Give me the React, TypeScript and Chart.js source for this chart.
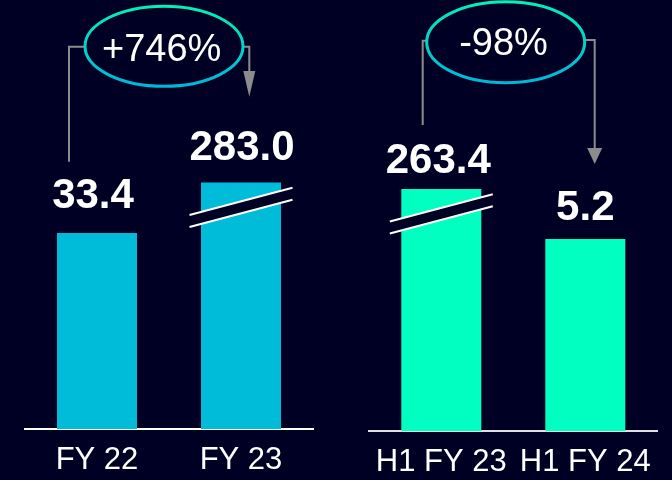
import React, { useEffect, useRef } from "react";
import { Chart, registerables } from "chart.js";

Chart.register(...registerables);

// ---------- data ----------
const leftCategories = ["FY 22", "FY 23"];
const leftValues = [33.4, 283.0];
// Bars in the source use a broken, non-proportional axis: these are the drawn
// bar heights, on a 0–100 plot scale.
const leftDrawnHeights = [65.3, 82.2];
const leftBroken = [false, true];
const leftChange = "+746%";

const rightCategories = ["H1 FY 23", "H1 FY 24"];
const rightValues = [263.4, 5.2];
const rightDrawnHeights = [80.7, 64.0];
const rightBroken = [true, false];
const rightChange = "-98%";

// ---------- style ----------
const BG = "#000024";
const CYAN = "#00BCD9";
const MINT = "#00FFC0";
const CONNECTOR = "#8C8C8C";
const FONT = "'Liberation Sans', Arial, Helvetica, sans-serif";

type PanelCfg = {
  categories: string[];
  values: number[];
  heights: number[];
  broken: boolean[];
  change: string;
  color: string;
  baseline: string;
  padding: { left: number; right: number; top: number };
  axisHeight: number;
  labelGap: number[];
  labelDx: number[];
  ellipse: { cx: number; cy: number; rx: number; ry: number };
  textX: number;
  textBaseline: number;
  leftConnDx: number;
  leftConnBottom: number;
  leftConnY: number;
  arrowDx: number;
  arrowY: number;
  headTop: number;
  tip: number;
  halfW: number;
};

const leftPanel: PanelCfg = {
  categories: leftCategories,
  values: leftValues,
  heights: leftDrawnHeights,
  broken: leftBroken,
  change: leftChange,
  color: CYAN,
  baseline: "#ffffff",
  padding: { left: 25, right: 23, top: 129 },
  axisHeight: 51,
  labelGap: [40, 37.7],
  labelDx: [-4, 1],
  ellipse: { cx: 164, cy: 46.3, rx: 79, ry: 40 },
  textX: 161.7,
  textBaseline: 60.6,
  leftConnDx: -28,
  leftConnBottom: 161.7,
  leftConnY: 46.7,
  arrowDx: 8.3,
  arrowY: 46.7,
  headTop: 71,
  tip: 96.7,
  halfW: 6,
};

const rightPanel: PanelCfg = {
  categories: rightCategories,
  values: rightValues,
  heights: rightDrawnHeights,
  broken: rightBroken,
  change: rightChange,
  color: MINT,
  baseline: "#e0e0e0",
  padding: { left: 33.3, right: 14.7, top: 131 },
  axisHeight: 49,
  labelGap: [30.7, 34],
  labelDx: [-3, 0],
  ellipse: { cx: 169.7, cy: 42.2, rx: 79, ry: 40.5 },
  textX: 167.5,
  textBaseline: 55,
  leftConnDx: -18.6,
  leftConnBottom: 125,
  leftConnY: 40.7,
  arrowDx: 9.4,
  arrowY: 40,
  headTop: 148,
  tip: 164,
  halfW: 7.5,
};

function makePlugin(p: PanelCfg) {
  return {
    id: "panelAnnotations",
    afterDatasetsDraw(chart: any) {
      const ctx: CanvasRenderingContext2D = chart.ctx;
      const bars = chart.getDatasetMeta(0).data as any[];
      ctx.save();

      // break marks + value labels
      bars.forEach((bar: any, i: number) => {
        const cx = bar.x;
        const top = bar.y;
        if (p.broken[i]) {
          const half = 51.5;
          const slope = 0.265;
          const yAt = (x: number, off: number) => top + off - slope * (x - cx);
          const xl = cx - half;
          const xr = cx + half;
          ctx.beginPath();
          ctx.moveTo(xl, yAt(xl, 19));
          ctx.lineTo(xr, yAt(xr, 19));
          ctx.lineTo(xr, yAt(xr, 31));
          ctx.lineTo(xl, yAt(xl, 31));
          ctx.closePath();
          ctx.fillStyle = BG;
          ctx.fill();
          ctx.strokeStyle = "#ffffff";
          ctx.lineWidth = 2;
          ctx.beginPath();
          ctx.moveTo(xl, yAt(xl, 19));
          ctx.lineTo(xr, yAt(xr, 19));
          ctx.moveTo(xl, yAt(xl, 31));
          ctx.lineTo(xr, yAt(xr, 31));
          ctx.stroke();
        }
        ctx.fillStyle = "#ffffff";
        ctx.font = `bold 42px ${FONT}`;
        ctx.textAlign = "center";
        ctx.textBaseline = "alphabetic";
        ctx.fillText(
          p.values[i].toFixed(1),
          cx + p.labelDx[i],
          top - p.labelGap[i] + 15
        );
      });

      // connectors
      const e = p.ellipse;
      ctx.strokeStyle = CONNECTOR;
      ctx.fillStyle = CONNECTOR;
      ctx.lineWidth = 2;
      const lx = bars[0].x + p.leftConnDx;
      ctx.beginPath();
      ctx.moveTo(lx, p.leftConnBottom);
      ctx.lineTo(lx, p.leftConnY);
      ctx.lineTo(e.cx - e.rx, p.leftConnY);
      ctx.stroke();

      const ax = bars[1].x + p.arrowDx;
      ctx.beginPath();
      ctx.moveTo(e.cx + e.rx, p.arrowY);
      ctx.lineTo(ax, p.arrowY);
      ctx.lineTo(ax, p.headTop);
      ctx.stroke();
      ctx.beginPath();
      ctx.moveTo(ax - p.halfW, p.headTop);
      ctx.lineTo(ax + p.halfW, p.headTop);
      ctx.lineTo(ax, p.tip);
      ctx.closePath();
      ctx.fill();

      // ellipse
      const grad = ctx.createLinearGradient(0, e.cy - e.ry, 0, e.cy + e.ry);
      grad.addColorStop(0, "#00F2B8");
      grad.addColorStop(0.5, "#00D4C8");
      grad.addColorStop(1, "#00B6DA");
      ctx.beginPath();
      ctx.ellipse(e.cx, e.cy, e.rx, e.ry, 0, 0, Math.PI * 2);
      ctx.fillStyle = BG;
      ctx.fill();
      ctx.strokeStyle = grad;
      ctx.lineWidth = 3;
      ctx.stroke();

      ctx.fillStyle = "#ffffff";
      ctx.font = `38px ${FONT}`;
      ctx.textAlign = "center";
      ctx.textBaseline = "alphabetic";
      ctx.fillText(p.change, p.textX, p.textBaseline);

      ctx.restore();
    },
  };
}

function Panel({ cfg, left }: { cfg: PanelCfg; left: number }) {
  const ref = useRef<HTMLCanvasElement | null>(null);
  useEffect(() => {
    if (!ref.current) return;
    const chart = new Chart(ref.current, {
      type: "bar",
      data: {
        labels: cfg.categories,
        datasets: [
          {
            data: cfg.heights,
            backgroundColor: cfg.color,
            borderWidth: 0,
            barPercentage: 80 / 144,
            categoryPercentage: 1,
          },
        ],
      },
      options: {
        responsive: false,
        animation: false,
        devicePixelRatio: 1,
        layout: {
          padding: {
            left: cfg.padding.left,
            right: cfg.padding.right,
            top: cfg.padding.top,
            bottom: 0,
          },
        },
        plugins: {
          legend: { display: false },
          tooltip: { enabled: false },
        },
        scales: {
          x: {
            grid: { display: false, drawTicks: false },
            border: { display: true, color: cfg.baseline, width: 2 },
            ticks: {
              color: "#ffffff",
              font: { family: FONT, size: 31 },
              padding: 13,
              maxRotation: 0,
              autoSkip: false,
            },
            afterFit: (scale: any) => {
              scale.height = cfg.axisHeight;
            },
          },
          y: {
            display: false,
            min: 0,
            max: 100,
          },
        },
      },
      plugins: [makePlugin(cfg)],
    });
    return () => chart.destroy();
  }, [cfg]);
  return (
    <canvas
      ref={ref}
      width={336}
      height={480}
      style={{ position: "absolute", left, top: 0, width: 336, height: 480, display: "block" }}
    />
  );
}

export default function App() {
  return (
    <div
      style={{
        position: "fixed",
        left: 0,
        top: 0,
        width: 672,
        height: 480,
        background: BG,
        overflow: "hidden",
      }}
    >
      <Panel cfg={leftPanel} left={0} />
      <Panel cfg={rightPanel} left={336} />
    </div>
  );
}
